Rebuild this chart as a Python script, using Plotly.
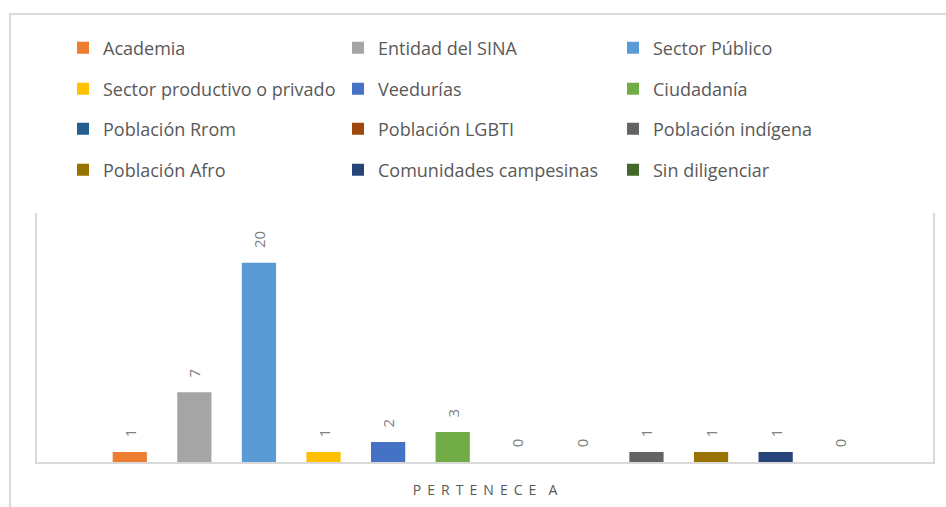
import plotly.graph_objects as go

categories = ["PERTENECE A"]
series_names = [
    "Academia", "Entidad del SINA", "Sector Público",
    "Sector productivo o privado", "Veedurías", "Ciudadanía",
    "Población Rrom", "Población LGBTI", "Población indígena",
    "Población Afro", "Comunidades campesinas", "Sin diligenciar",
]
series_values = [1, 7, 20, 1, 2, 3, 0, 0, 1, 1, 1, 0]
series_colors = [
    "#ED7D31", "#A5A5A5", "#5B9BD5",
    "#FFC000", "#4472C4", "#70AD47",
    "#255E91", "#9E480E", "#636363",
    "#997300", "#264478", "#43682B",
]
TS = "\u2009\u2009\u200a"
x_label = TS.join("PERTENECE") + TS * 2 + "A"

W, H = 946, 507
L, R, T, B = 37, 13, 213, 45
pw, ph = W - L - R, H - T - B

NB = "\u00a0"
fig = go.Figure()
for i, (name, val, col) in enumerate(zip(series_names, series_values, series_colors)):
    fig.add_trace(go.Bar(
        x=categories, y=[val], name=name,
        marker=dict(color=col, line=dict(width=0)),
        text=[NB * 3 + str(val)], textposition="outside", textangle=-90,
        textfont=dict(family="Open Sans", size=15, color="#808080"),
        cliponaxis=False,
        legend="legend" if i < 3 else f"legend{i // 3 + 1}",
    ))

row_y = [48, 89, 129, 170]
legend_common = dict(
    orientation="h", entrywidth=230, entrywidthmode="pixels",
    xref="container", yref="container", xanchor="left", yanchor="middle",
    font=dict(family="Open Sans", size=18, color="#595959"),
    bgcolor="rgba(0,0,0,0)", borderwidth=0, itemclick=False,
    traceorder="normal",
)
legends = {}
for r, py in enumerate(row_y):
    key = "legend" if r == 0 else f"legend{r + 1}"
    legends[key] = dict(legend_common, x=63 / W, y=1 - py / H)

fig.update_layout(
    width=W, height=H,
    margin=dict(l=L, r=R, t=T, b=B, autoexpand=False),
    paper_bgcolor="white", plot_bgcolor="white",
    barmode="group", bargap=0.135, bargroupgap=0.47,
    showlegend=True,
    xaxis=dict(
        showline=True, linecolor="#D9D9D9", linewidth=1.5,
        showgrid=False, ticks="", ticklabelstandoff=14,
        tickfont=dict(family="Open Sans", size=14, color="#595959"),
        ticktext=[x_label], tickvals=categories,
    ),
    yaxis=dict(
        range=[0, 25], showline=True, mirror=True, linecolor="#D9D9D9",
        linewidth=1.5, showgrid=False, showticklabels=False, ticks="",
        zeroline=False,
    ),
    shapes=[dict(
        type="rect", xref="paper", yref="paper",
        x0=(10 - L) / pw, x1=(960 - L) / pw,
        y0=(T + ph - 520) / ph, y1=(T + ph - 14) / ph,
        line=dict(color="#D9D9D9", width=2), fillcolor="rgba(0,0,0,0)",
        layer="below",
    )],
    **legends,
)

fig.write_html("out.html", config={"displayModeBar": False},
               post_script="document.body.style.margin='0';")
